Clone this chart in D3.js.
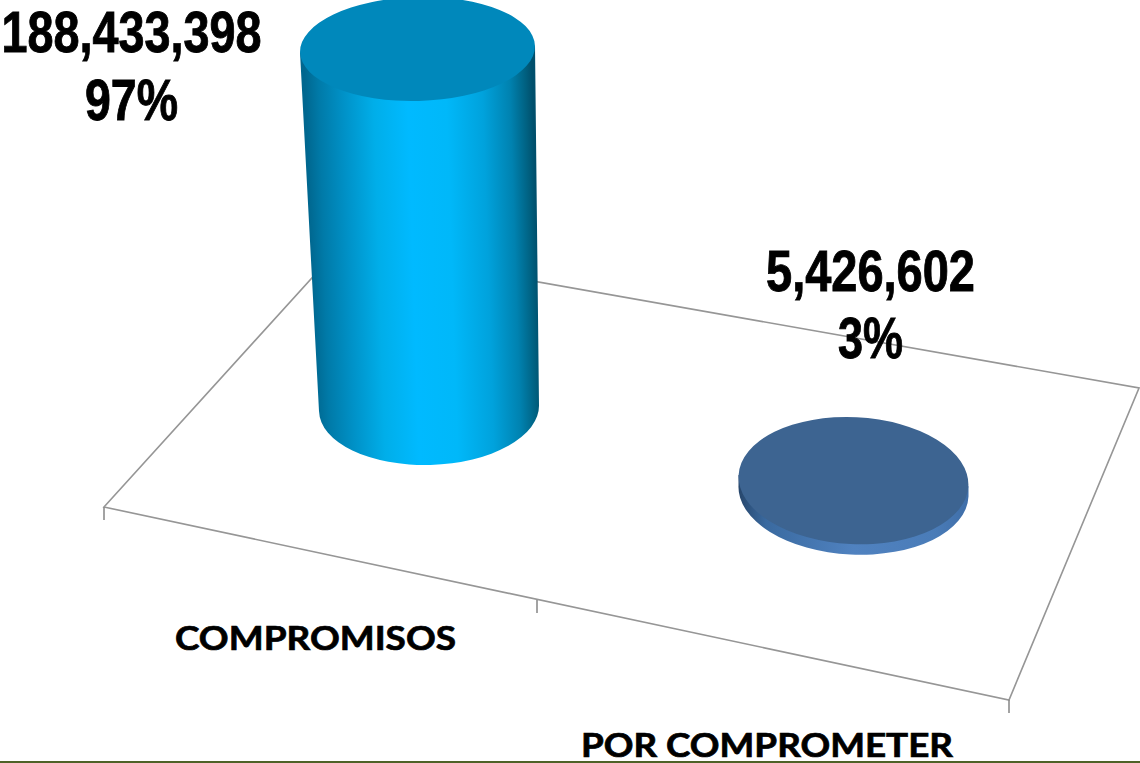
<!DOCTYPE html>
<html><head><meta charset="utf-8">
<script src="https://cdn.jsdelivr.net/npm/d3@7/dist/d3.min.js"></script>
<style>html,body{margin:0;padding:0;background:#fff;overflow:hidden}svg{display:block}</style>
</head><body><svg id="c" width="1140" height="763"></svg>
<script>
const categories = ["COMPROMISOS", "POR COMPROMETER"];
const values = [188433398, 5426602];
const percentLabels = ["97%", "3%"];
const valueLabels = ["188,433,398", "5,426,602"];

const svg = d3.select("#c");
const defs = svg.append("defs");

// Floor plane corners are layout constants of the 3D projection
const floor = [[104,507],[1009,700],[1139,388],[340,247]];
// perspective axis along the front edge of the floor
const axisX = d3.scaleLinear().domain([0,1,2]).range([104,537,1009]);
const axisY = d3.scaleLinear().domain([0,1,2]).range([507,600,700]);
// category position on the floor: base centre of each mark
const xBase = d3.scalePoint().domain(categories).range([429,853.5]);
const yBase = d3.scalePoint().domain(categories).range([408,491]);
const h = d3.scaleLinear().domain([0,d3.max(values)]).range([0,359]);
// perspective: the top widens / shifts in proportion to height
const rxAt = d3.scaleLinear().domain([0,359]).range([110,117.5]);
const ryAt = d3.scaleLinear().domain([0,359]).range([57,52]);
const shift = d3.scaleLinear().domain([0,359]).range([0,-11.5]);

// plane
svg.append("path")
  .attr("d", d3.line()(floor)+"Z")
  .attr("fill","#fff").attr("stroke","#969696").attr("stroke-width",1.6);
// ticks
svg.append("g").selectAll("line").data([0,1,2]).join("line")
  .attr("x1",d=>axisX(d)).attr("x2",d=>axisX(d))
  .attr("y1",d=>axisY(d)).attr("y2",d=>axisY(d)+13)
  .attr("stroke","#8c8c8c").attr("stroke-width",1.6);

const stops = [
  [[0,"#00678f"],[.06,"#007aa8"],[.17,"#0092c8"],[.3,"#00aee9"],[.45,"#00baff"],[.62,"#00b8f9"],[.78,"#00a2dc"],[.9,"#0082b0"],[.97,"#006080"],[1,"#004f6c"]],
  [[0,"#27466b"],[.12,"#3a6aa0"],[.5,"#5082c0"],[.85,"#4a7cb8"],[1,"#3f6ea8"]]
];
const topFill = ["#0088bb","#3d6491"];
const tilt = [-1.6,2.8];
const discRx = 115, discRy = 63.5;

categories.forEach((c,i)=>{
  const H = h(values[i]), cx = xBase(c), cy = yBase(c);
  const rb = i?discRx:rxAt(0), ryb = i?discRy:ryAt(0);
  const rt = i?discRx:rxAt(H), ryt = i?discRy:ryAt(H);
  const tx = cx+shift(H)*(i?0:1), ty = cy-H;
  const gid = "side"+i;
  // gradient runs perpendicular to the cylinder axis so the shading follows its slant
  const mx = (cx+tx)/2, my = (cy+ty)/2, ax = cx-tx, ay = cy-ty || 1;
  const len = Math.hypot(ax,ay), ux = ay/len, uy = -ax/len, rm = (rb+rt)/2;
  const g = defs.append("linearGradient").attr("id",gid).attr("gradientUnits","userSpaceOnUse")
    .attr("x1",mx-ux*rm).attr("y1",my-uy*rm).attr("x2",mx+ux*rm).attr("y2",my+uy*rm);
  stops[i].forEach(s=>g.append("stop").attr("offset",s[0]).attr("stop-color",s[1]));
  const a = tilt[i];
  const dy = rb*Math.tan(a*Math.PI/180);
  const dyt = rt*Math.tan(a*Math.PI/180);
  svg.append("path")
    .attr("d",`M${tx-rt},${ty-dyt}L${cx-rb},${cy-dy}A${rb},${ryb} ${a} 0 0 ${cx+rb},${cy+dy}L${tx+rt},${ty+dyt}Z`)
    .attr("fill",`url(#${gid})`);
  svg.append("ellipse")
    .attr("cx",tx).attr("cy",ty).attr("rx",rt).attr("ry",ryt)
    .attr("transform",`rotate(${a} ${tx} ${ty})`)
    .attr("fill",topFill[i]);
});

const numFont = "'Liberation Sans Narrow','Arial Narrow','Liberation Sans',sans-serif";
const valX = [131.5,870.5], valY1 = [52,291], valY2 = [120,358], valW = [260,209], pctW = [93,65];
function label(t,x,y,w){
  svg.append("text").text(t).attr("x",x).attr("y",y)
    .attr("text-anchor","middle").attr("font-family",numFont).attr("font-weight",700)
    .attr("font-size",57).attr("textLength",w).attr("lengthAdjust","spacingAndGlyphs")
    .attr("stroke","#000").attr("stroke-width",0.9);
}
valueLabels.forEach((t,i)=>{
  label(t,valX[i],valY1[i],valW[i]);
  label(percentLabels[i],valX[i],valY2[i],pctW[i]);
});

const catX = [315.5,767], catY = [650,756.5], catW = [281,372];
categories.forEach((t,i)=>{
  svg.append("text").text(t).attr("x",catX[i]).attr("y",catY[i])
    .attr("text-anchor","middle").attr("font-family","Lato,'Open Sans',sans-serif").attr("font-weight",700)
    .attr("font-size",33).attr("textLength",catW[i]).attr("lengthAdjust","spacingAndGlyphs")
    .attr("stroke","#000").attr("stroke-width",0.7);
});

svg.append("line").attr("x1",0).attr("x2",1140).attr("y1",762).attr("y2",762)
  .attr("stroke","#4f6228").attr("stroke-width",2);
</script></body></html>
